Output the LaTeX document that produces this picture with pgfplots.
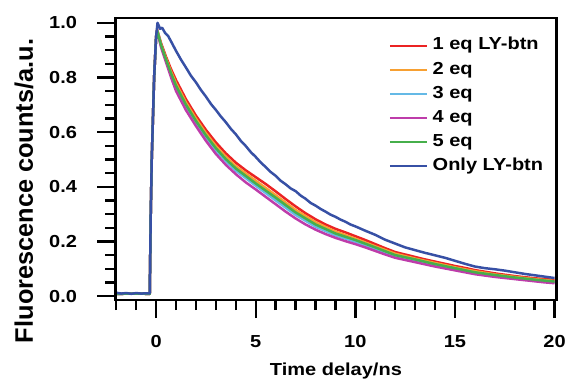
\documentclass[border=0pt]{standalone}
\usepackage{fontspec}
\setmainfont{Liberation Sans}[FakeStretch=1.15]
\newfontfamily\ylabfont{Liberation Sans}
\usepackage{pgfplots}
\pgfplotsset{compat=1.18}
\usetikzlibrary{calc}
\definecolor{cred}{RGB}{235,35,35}
\definecolor{corange}{RGB}{247,160,50}
\definecolor{ccyan}{RGB}{100,185,230}
\definecolor{cmag}{RGB}{190,60,170}
\definecolor{cgreen}{RGB}{70,175,75}
\definecolor{cblue}{RGB}{55,80,165}
\begin{document}
\begin{tikzpicture}
\begin{axis}[
  name=ax,
  at={(116pt,74pt)}, anchor=south west,
  scale only axis, width=444pt, height=284pt,
  xmin=-2.05, xmax=20.1, ymin=-0.015, ymax=1.018,
  axis line style={line width=2.6pt},
  every tick/.append style={line width=2.4pt, black},
  tick align=outside, xtick pos=bottom, ytick pos=left,
  major tick length=18pt, minor tick length=10pt,
  xtick={0,5,10,15,20},
  minor xtick={-2,-1,1,2,3,4,6,7,8,9,11,12,13,14,16,17,18,19},
  ytick={0,0.2,0.4,0.6,0.8,1.0},
  minor ytick={0.05,0.1,0.15,0.25,0.3,0.35,0.45,0.5,0.55,0.65,0.7,0.75,0.85,0.9,0.95},
  yticklabel style={/pgf/number format/fixed, /pgf/number format/fixed zerofill, /pgf/number format/precision=1, xshift=-17pt},
  xticklabel style={yshift=-14pt},
  tick label style={font=\fontsize{17.5}{21}\selectfont\bfseries, /pgf/number format/assume math mode=true},
  xlabel={Time delay/ns},
  ylabel={Fluorescence counts/a.u.},
  xlabel style={font=\fontsize{17.5}{21}\selectfont\bfseries, at={(axis description cs:0.5,-0.222)}, anchor=north, inner sep=0pt},
  ylabel style={font=\ylabfont\fontsize{25.5}{29}\selectfont\bfseries, at={(axis description cs:-0.207,0.387)}, anchor=center, inner sep=0pt},
  legend style={draw=none, fill=none, at={(axis description cs:0.613,0.938)}, anchor=north west,
    font=\fontsize{17.5}{21}\selectfont\bfseries,
    nodes={text height=12.5pt, text depth=3.7pt, inner sep=0pt},
    row sep=8pt, /tikz/every odd column/.append style={column sep=5pt}},
  legend cell align=left,
  legend image code/.code={\draw[#1, line width=2pt] (-3pt,0pt) -- (34pt,0pt);},
  every axis plot/.append style={line width=2.5pt, line join=round},
]
\addplot[cred] coordinates {(-2,0.008) (-1,0.009) (-0.32,0.008) (-0.27,0.3) (-0.22,0.5) (-0.1,0.8) (0.0,0.95) (0.05,0.975)
 (0.25,0.925) (0.5,0.875) (0.75,0.83) (1.0,0.79) (1.5,0.72) (2.0,0.66) (2.5,0.608) (3.0,0.562) (3.5,0.522) (4.0,0.488) (4.5,0.46) (5.0,0.435) (5.5,0.41) (6.0,0.383) (6.5,0.355) (7.0,0.328) (7.5,0.303) (8.0,0.281) (8.5,0.262) (9.0,0.246) (9.5,0.233) (10.0,0.219) (10.5,0.205) (11.0,0.19) (11.5,0.175) (12.0,0.161) (12.5,0.152) (13.0,0.143) (13.5,0.134) (14.0,0.126) (14.5,0.118) (15.0,0.11) (15.5,0.103) (16.0,0.095) (16.5,0.089) (17.0,0.083) (17.5,0.078) (18.0,0.073) (18.5,0.069) (19.0,0.065) (19.5,0.062) (20.0,0.059)};
\addlegendentry{1 eq LY-btn}
\addplot[corange] coordinates {(-2,0.008) (-1,0.009) (-0.32,0.008) (-0.27,0.3) (-0.22,0.5) (-0.1,0.8) (0.0,0.95) (0.05,0.974)
 (0.25,0.92) (0.5,0.869) (0.75,0.821) (1.0,0.778) (1.5,0.708) (2.0,0.649) (2.5,0.596) (3.0,0.549) (3.5,0.509) (4.0,0.475) (5.0,0.422) (6.0,0.369) (7.0,0.315) (8.0,0.27) (9.0,0.236) (10.0,0.21) (11.0,0.182) (12.0,0.155) (13.0,0.137) (14.0,0.121) (15.0,0.105) (16.0,0.091) (17.0,0.079) (18.0,0.07) (19.0,0.062) (20.0,0.055)};
\addlegendentry{2 eq}
\addplot[ccyan] coordinates {(-2,0.008) (-1,0.009) (-0.32,0.008) (-0.27,0.3) (-0.22,0.5) (-0.1,0.8) (0.0,0.95) (0.05,0.972)
 (0.25,0.915) (0.5,0.861) (0.75,0.809) (1.0,0.762) (1.5,0.692) (2.0,0.633) (2.5,0.58) (3.0,0.533) (3.5,0.493) (4.0,0.459) (5.0,0.404) (6.0,0.35) (7.0,0.297) (8.0,0.254) (9.0,0.222) (10.0,0.199) (11.0,0.172) (12.0,0.146) (13.0,0.13) (14.0,0.113) (15.0,0.099) (16.0,0.084) (17.0,0.074) (18.0,0.065) (19.0,0.057) (20.0,0.051)};
\addlegendentry{3 eq}
\addplot[cmag] coordinates {(-2,0.008) (-1,0.009) (-0.32,0.008) (-0.27,0.3) (-0.22,0.5) (-0.1,0.8) (0.0,0.95) (0.05,0.97)
 (0.25,0.91) (0.5,0.855) (0.75,0.8) (1.0,0.75) (1.5,0.68) (2.0,0.622) (2.5,0.568) (3.0,0.52) (3.5,0.48) (4.0,0.446) (4.5,0.416) (5.0,0.39) (5.5,0.363) (6.0,0.336) (6.5,0.309) (7.0,0.284) (7.5,0.262) (8.0,0.243) (8.5,0.227) (9.0,0.213) (9.5,0.201) (10.0,0.19) (10.5,0.178) (11.0,0.165) (11.5,0.152) (12.0,0.14) (12.5,0.132) (13.0,0.124) (13.5,0.116) (14.0,0.108) (14.5,0.101) (15.0,0.094) (15.5,0.087) (16.0,0.08) (16.5,0.075) (17.0,0.07) (17.5,0.066) (18.0,0.062) (18.5,0.058) (19.0,0.054) (19.5,0.05) (20.0,0.047)};
\addlegendentry{4 eq}
\addplot[cgreen] coordinates {(-2,0.008) (-1,0.009) (-0.32,0.008) (-0.27,0.3) (-0.22,0.5) (-0.1,0.8) (0.0,0.95) (0.05,0.972)
 (0.25,0.918) (0.5,0.865) (0.75,0.815) (1.0,0.77) (1.5,0.7) (2.0,0.641) (2.5,0.588) (3.0,0.541) (3.5,0.501) (4.0,0.467) (5.0,0.412) (6.0,0.36) (7.0,0.306) (8.0,0.262) (9.0,0.229) (10.0,0.205) (11.0,0.178) (12.0,0.15) (13.0,0.134) (14.0,0.117) (15.0,0.102) (16.0,0.087) (17.0,0.077) (18.0,0.068) (19.0,0.06) (20.0,0.053)};
\addlegendentry{5 eq}
\addplot[cblue] coordinates {(-2.0,0.012) (-1.75,0.009) (-1.5,0.011) (-1.25,0.008) (-1.0,0.011) (-0.75,0.009) (-0.5,0.010) (-0.32,0.010) (-0.27,0.3) (-0.22,0.5) (-0.1,0.8) (0.0,0.95) (0.07,1.0)
 (0.2,0.978) (0.3,0.982) (0.45,0.963) (0.6,0.952) (0.8,0.925) (1.0,0.897) (1.25,0.865) (1.5,0.836) (1.75,0.806) (2.0,0.782) (2.25,0.754) (2.5,0.73) (2.75,0.703) (3.0,0.681) (3.25,0.657) (3.5,0.636) (3.75,0.612) (4.0,0.592) (4.25,0.568) (4.5,0.549) (4.75,0.527) (5.0,0.509) (5.25,0.489) (5.5,0.472) (5.75,0.454) (6.0,0.44) (6.25,0.422) (6.5,0.409) (6.75,0.394) (7.0,0.384) (7.25,0.368) (7.5,0.356) (7.75,0.341) (8.0,0.331) (8.25,0.319) (8.5,0.309) (8.75,0.298) (9.0,0.29) (9.25,0.28) (9.5,0.272) (9.75,0.262) (10.0,0.255) (10.5,0.239) (11.0,0.224) (11.5,0.206) (12.0,0.192) (12.5,0.178) (13.0,0.168) (13.5,0.158) (14.0,0.149) (14.5,0.14) (15.0,0.129) (15.5,0.118) (16.0,0.108) (16.5,0.102) (17.0,0.098) (17.5,0.093) (18.0,0.087) (18.5,0.081) (19.0,0.076) (19.5,0.071) (20.0,0.066)};
\addlegendentry{Only LY-btn}
\end{axis}
\begin{scope}[line width=2.4pt, black]
\foreach \t in {0,5,10,15,20} {\draw ($(ax.south west)!{(\t+2.05)/22.15}!(ax.south east)$) -- ++(0pt,-18pt);}
\foreach \t in {-2,-1,1,2,3,4,6,7,8,9,11,12,13,14,16,17,18,19} {\draw ($(ax.south west)!{(\t+2.05)/22.15}!(ax.south east)$) -- ++(0pt,-10pt);}
\foreach \v in {0,0.2,0.4,0.6,0.8,1.0} {\draw ($(ax.south west)!{(\v+0.015)/1.033}!(ax.north west)$) -- ++(-18pt,0pt);}
\foreach \v in {0.05,0.1,0.15,0.25,0.3,0.35,0.45,0.5,0.55,0.65,0.7,0.75,0.85,0.9,0.95} {\draw ($(ax.south west)!{(\v+0.015)/1.033}!(ax.north west)$) -- ++(-10pt,0pt);}
\draw[line width=2.6pt] (ax.south west) rectangle (ax.north east);
\end{scope}
\path (0,0) rectangle (569pt,376pt);
\end{tikzpicture}
\end{document}
